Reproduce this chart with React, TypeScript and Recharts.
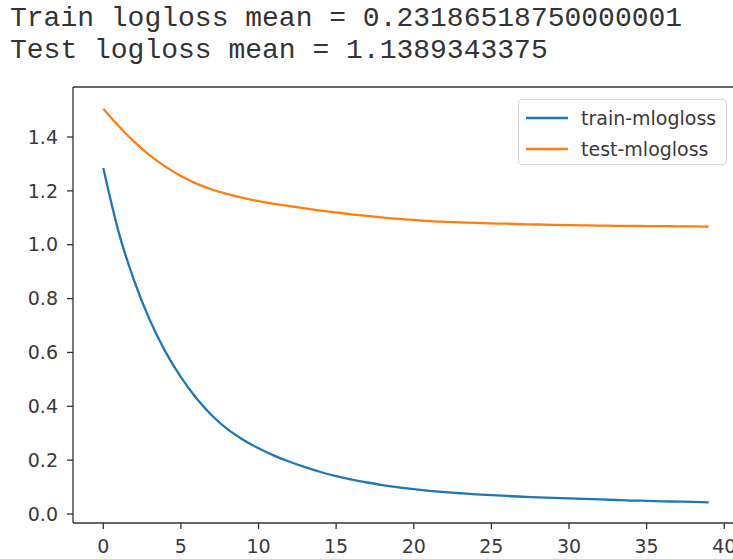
import React from "react";
import { LineChart, Line, XAxis, YAxis, Legend, ReferenceLine } from "recharts";

const iterations = [
  0, 1, 2, 3, 4, 5, 6, 7, 8, 9, 10, 11, 12, 13, 14, 15, 16, 17, 18, 19,
  20, 21, 22, 23, 24, 25, 26, 27, 28, 29, 30, 31, 32, 33, 34, 35, 36, 37, 38, 39,
];

const trainLoss = [
  1.285, 1.045, 0.865, 0.72, 0.603, 0.508, 0.43, 0.366, 0.315, 0.276,
  0.244, 0.217, 0.194, 0.174, 0.156, 0.141, 0.128, 0.117, 0.107, 0.099,
  0.092, 0.086, 0.081, 0.077, 0.073, 0.07, 0.067, 0.064, 0.062, 0.06,
  0.058, 0.056, 0.054, 0.052, 0.05, 0.049, 0.047, 0.046, 0.045, 0.043,
];

const testLoss = [
  1.505, 1.44, 1.382, 1.332, 1.29, 1.255, 1.227, 1.205, 1.188, 1.174,
  1.162, 1.152, 1.143, 1.135, 1.127, 1.12, 1.113, 1.107, 1.101, 1.096,
  1.092, 1.088, 1.085, 1.083, 1.081, 1.079, 1.078, 1.076, 1.075, 1.074,
  1.073, 1.072, 1.071, 1.07, 1.07, 1.069, 1.069, 1.068, 1.068, 1.067,
];

const xTicks = [0, 5, 10, 15, 20, 25, 30, 35, 40];
const yTicks = [0, 0.2, 0.4, 0.6, 0.8, 1.0, 1.2, 1.4];
const seriesNames = ["train-mlogloss", "test-mlogloss"];
const titleLines = [
  "Train logloss mean = 0.23186518750000001",
  "Test logloss mean = 1.1389343375",
];

const data = iterations.map((it, i) => ({
  it,
  train: trainLoss[i],
  test: testLoss[i],
}));

const BLUE = "#1f77b4";
const ORANGE = "#ff7f0e";
const seriesColors = [BLUE, ORANGE];
const AXIS = "#333333";
const FONT = "'DejaVu Sans', sans-serif";
const X_DOMAIN = [-1.95, 40.95];
const Y_DOMAIN = [-0.0334, 1.5857];

const LegendBox = () => {
  return (
    <div
      style={{
        width: 209,
        height: 66,
        boxSizing: "border-box",
        border: "1px solid #d6d6d6",
        borderRadius: 4,
        background: "rgba(255,255,255,0.85)",
        fontFamily: FONT,
        fontSize: 19,
        color: "#3a3a3a",
        position: "relative",
      }}
    >
      {seriesNames.map((name, i) => (
        <div
          key={i}
          style={{
            position: "absolute",
            left: 0,
            top: 4 + i * 31,
            height: 28,
            display: "flex",
            alignItems: "center",
          }}
        >
          <svg width={62} height={28}>
            <line x1={7} x2={49} y1={14} y2={14} stroke={seriesColors[i]} strokeWidth={2.5} />
          </svg>
          <span style={{ lineHeight: "28px" }}>{name}</span>
        </div>
      ))}
    </div>
  );
};

export default function App() {
  return (
    <div
      style={{
        position: "absolute",
        left: 0,
        top: 0,
        width: 733,
        height: 559,
        overflow: "hidden",
        background: "#fff",
      }}
    >
      {titleLines.map((t, i) => (
        <div
          key={i}
          style={{
            position: "absolute",
            left: 10,
            top: 3 + i * 32,
            fontFamily: "'Liberation Mono', 'Courier New', monospace",
            fontSize: 28,
            lineHeight: "32px",
            color: "#333333",
            whiteSpace: "pre",
          }}
        >
          {t}
        </div>
      ))}
      <div style={{ position: "absolute", left: 0, top: 0 }}>
        <LineChart
          width={745}
          height={559}
          data={data}
          margin={{ top: 87, right: 6, bottom: 0, left: 0 }}
          style={{ fontFamily: FONT }}
        >
          <XAxis
            dataKey="it"
            type="number"
            domain={X_DOMAIN}
            ticks={xTicks}
            interval={0}
            allowDataOverflow
            height={36}
            tickSize={6}
            tickMargin={11}
            stroke={AXIS}
            strokeWidth={1.3}
            tick={{ fill: "#3a3a3a", fontSize: 19 }}
          />
          <YAxis
            type="number"
            domain={Y_DOMAIN}
            ticks={yTicks}
            interval={0}
            allowDataOverflow
            width={73}
            tickSize={6}
            tickMargin={9}
            stroke={AXIS}
            strokeWidth={1.3}
            tick={{ fill: "#3a3a3a", fontSize: 19 }}
            tickFormatter={(v: number) => v.toFixed(1)}
          />
          <ReferenceLine y={Y_DOMAIN[1]} stroke={AXIS} strokeWidth={1.3} ifOverflow="visible" />
          <Legend
            layout="vertical"
            align="center"
            verticalAlign="middle"
            wrapperStyle={{ left: 518, top: 99, width: 209, height: 66 }}
            content={<LegendBox />}
          />
          <Line
            type="monotone"
            dataKey="train"
            name={seriesNames[0]}
            stroke={BLUE}
            strokeWidth={2.3}
            dot={false}
            isAnimationActive={false}
          />
          <Line
            type="monotone"
            dataKey="test"
            name={seriesNames[1]}
            stroke={ORANGE}
            strokeWidth={2.3}
            dot={false}
            isAnimationActive={false}
          />
        </LineChart>
      </div>
    </div>
  );
}
